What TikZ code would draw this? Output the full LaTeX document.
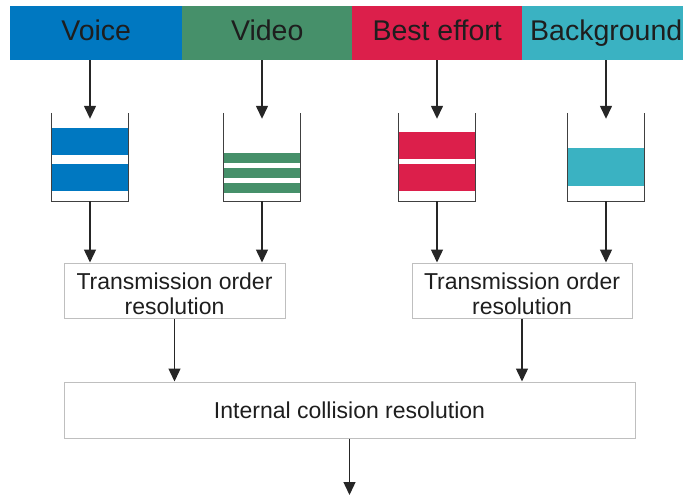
\documentclass[tikz,border=0pt]{standalone}
\usepackage{fontspec}
\setmainfont{Liberation Sans}
\usetikzlibrary{arrows.meta}

\definecolor{voicec}{HTML}{0078C1}
\definecolor{videoc}{HTML}{46906A}
\definecolor{bestc}{HTML}{DC1F4B}
\definecolor{backc}{HTML}{3AB2C2}
\definecolor{textc}{HTML}{1E1E1E}

\tikzset{
    acbox/.style={draw=none, inner sep=0pt, anchor=north west, minimum height=54pt,
        text height=21pt, text depth=6pt,
        text=textc, font=\fontsize{28.5}{30}\selectfont},
    queue/.style={draw=none, inner sep=0pt, minimum width=77pt, minimum height=88pt},
    wall/.style={draw=black!75, line width=1.3pt},
    stage/.style={draw=black!25, line width=1pt, inner sep=0pt, text=textc,
        align=center, font=\fontsize{23}{25}\selectfont},
    arr/.style={draw=black!85, line width=1.4pt, -{Triangle[width=12pt,length=13pt]}}
}

\begin{document}
\begin{tikzpicture}[x=1pt, y=-1pt]
    \useasboundingbox (0,0) rectangle (683,495);
    \clip (0,0) rectangle (683,495);

    % access categories
    \node[acbox, fill=voicec, minimum width=172pt] (voice) at (10,6) {Voice};
    \node[acbox, fill=videoc, minimum width=170pt] (video) at (182,6) {Video};
    \node[acbox, fill=bestc, minimum width=170pt] (best) at (352,6) {Best effort};
    \node[acbox, fill=backc, minimum width=168pt] (back) at (522,6) {Background};

    % queues
    \node[queue] (q1) at (90,157) {};
    \node[queue] (q2) at (262,157) {};
    \node[queue] (q3) at (437,157) {};
    \node[queue] (q4) at (606,157) {};

    \fill[voicec] (51.5,128) rectangle (128.5,155);
    \fill[voicec] (51.5,164) rectangle (128.5,191);
    \fill[videoc] (223.5,153) rectangle (300.5,163);
    \fill[videoc] (223.5,168) rectangle (300.5,178);
    \fill[videoc] (223.5,183) rectangle (300.5,193);
    \fill[bestc] (398.5,132) rectangle (475.5,159);
    \fill[bestc] (398.5,164) rectangle (475.5,191);
    \fill[backc] (567.5,148) rectangle (644.5,186);

    \foreach \q in {q1,q2,q3,q4}
        \draw[wall] (\q.north west) -- (\q.south west) -- (\q.south east) -- (\q.north east);

    % scheduling stages
    \node[stage, minimum width=221pt, minimum height=55pt, text height=47pt, text depth=0pt]
        (tor1) at (174.5,290.5) {Transmission order\\resolution};
    \node[stage, minimum width=220pt, minimum height=55pt, text height=47pt, text depth=0pt]
        (tor2) at (522,290.5) {Transmission order\\resolution};
    \node[stage, minimum width=571pt, minimum height=56pt] (ics) at (349.5,410)
        {Internal collision resolution};
    \coordinate (out) at (349.5,495);

    % arrows
    \draw[arr] (q1.north |- voice.south) -- ([yshift=-6pt]q1.north);
    \draw[arr] (q2.north |- video.south) -- ([yshift=-6pt]q2.north);
    \draw[arr] (q3.north |- best.south) -- ([yshift=-6pt]q3.north);
    \draw[arr] (q4.north |- back.south) -- ([yshift=-6pt]q4.north);

    \draw[arr] (q1.south) -- (q1.south |- tor1.north);
    \draw[arr] (q2.south) -- (q2.south |- tor1.north);
    \draw[arr] (q3.south) -- (q3.south |- tor2.north);
    \draw[arr] (q4.south) -- (q4.south |- tor2.north);

    \draw[arr] (tor1.south) -- (tor1.south |- ics.north);
    \draw[arr] (tor2.south) -- (tor2.south |- ics.north);
    \draw[arr] (ics.south) -- (out);
\end{tikzpicture}
\end{document}
